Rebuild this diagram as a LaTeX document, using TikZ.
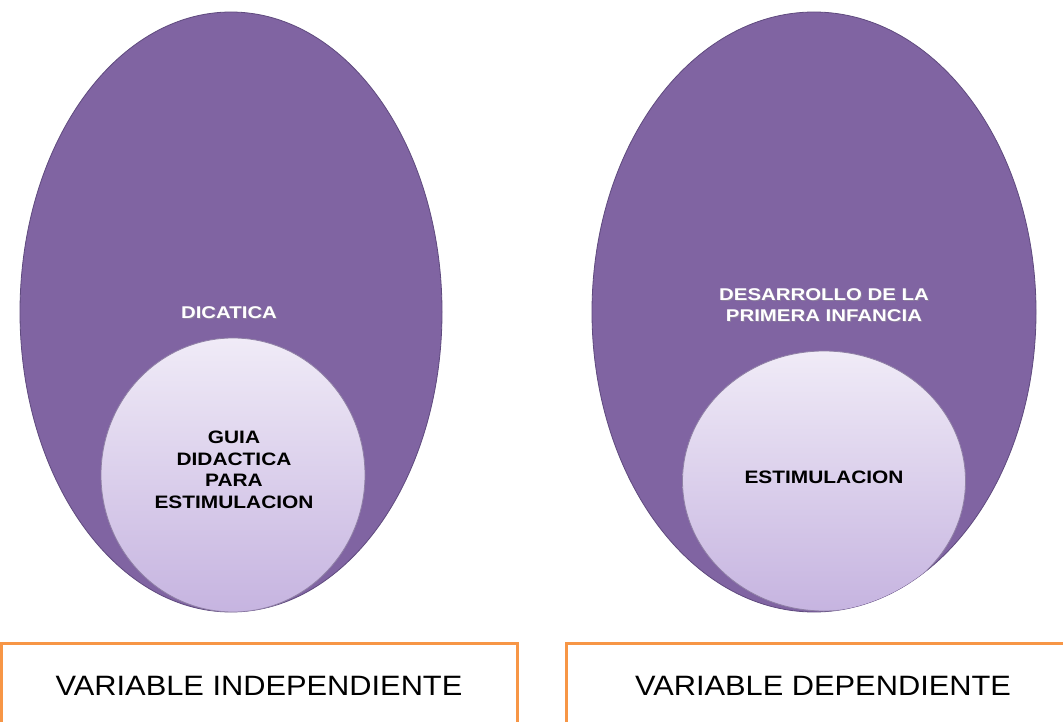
\documentclass[tikz,border=0pt]{standalone}
\usepackage{fontspec}
\setmainfont{Liberation Sans}
\usetikzlibrary{shapes.geometric}
\definecolor{egg}{HTML}{8064A2}
\definecolor{eggline}{HTML}{5F4A7E}
\definecolor{ctop}{HTML}{F0EBF7}
\definecolor{cbot}{HTML}{C6B4E0}
\definecolor{boxline}{HTML}{F79646}
\tikzset{
  eggshape/.style={ellipse, fill=egg, draw=eggline, line width=0.8pt, inner sep=0pt},
  inner/.style={ellipse, top color=ctop, bottom color=cbot, draw=eggline!70, line width=0.8pt, inner sep=0pt},
  whitelbl/.style={text=white, font=\bfseries\fontsize{17}{21}\selectfont\addfontfeatures{FakeStretch=1.2}, align=center},
  blacklbl/.style={text=black, font=\bfseries\fontsize{18}{21.5}\selectfont\addfontfeatures{FakeStretch=1.16}, align=center},
  varbox/.style={rectangle, draw=boxline, line width=3pt, fill=white, inner sep=0pt, minimum height=86pt},
  vartxt/.style={font=\fontsize{28}{32}\selectfont\addfontfeatures{FakeStretch=1.1}},
}
\begin{document}
\begin{tikzpicture}[x=1pt,y=-1pt]
\useasboundingbox[fill=white] (0,0) rectangle (1063,722);
% left egg
\node[eggshape, minimum width=422pt, minimum height=600pt] (eggL) at (231,312) {};
\begin{scope}
\clip (231,312) ellipse [x radius=211, y radius=300];
\node[inner, minimum width=264pt, minimum height=274pt] (circL) at (233,475) {};
\end{scope}
\node[whitelbl, text=black!40, opacity=0.5] (dicsh) at (230,314) {DICATICA};
\node[whitelbl] (dic) at (229,313) {DICATICA};
\node[blacklbl] (guia) at (234,470) {GUIA\\DIDACTICA\\PARA\\ESTIMULACION};
% right egg
\node[eggshape, minimum width=444pt, minimum height=600pt] (eggR) at (814,312) {};
\begin{scope}
\clip (814,312) ellipse [x radius=222, y radius=300];
\node[inner, minimum width=283pt, minimum height=260pt] (circR) at (824,481) {};
\end{scope}
\node[whitelbl, text=black!40, opacity=0.5] (dessh) at (825,306) {DESARROLLO DE LA\\PRIMERA INFANCIA};
\node[whitelbl] (des) at (824,305) {DESARROLLO DE LA\\PRIMERA INFANCIA};
\node[blacklbl] (est) at (824,477) {ESTIMULACION};
% boxes
\node[varbox, minimum width=516pt] (vi) at (259,686) {};
\node[vartxt] (vitxt) at (259,686) {VARIABLE INDEPENDIENTE};
\node[varbox, minimum width=528pt] (vd) at (830,686) {};
\node[vartxt] (vdtxt) at (823,686) {VARIABLE DEPENDIENTE};
\end{tikzpicture}
\end{document}
